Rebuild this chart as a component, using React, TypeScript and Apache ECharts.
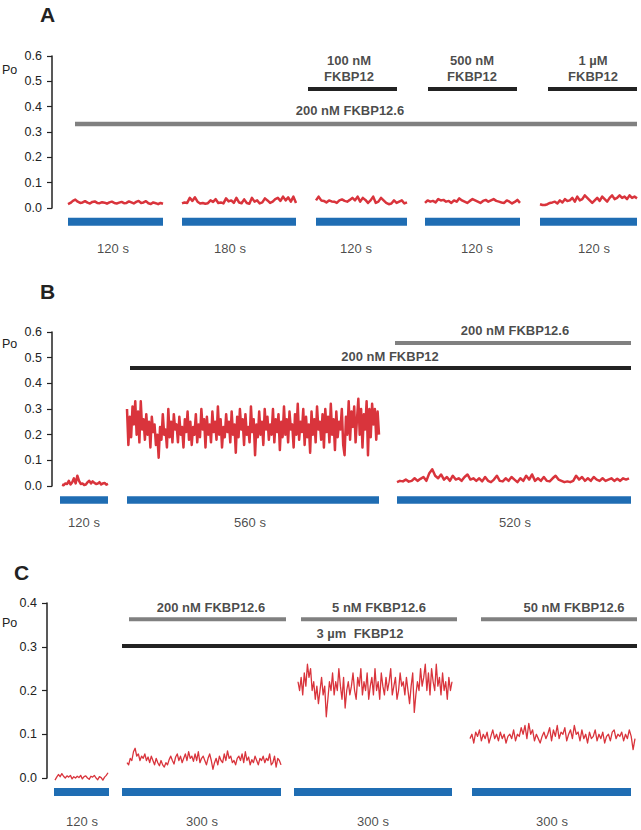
import React, { useEffect, useRef } from "react";
import * as echarts from "echarts";

// ---------- Panel A data ----------
const aTicks = [0, 0.1, 0.2, 0.3, 0.4, 0.5, 0.6];
const aSegSpans = [[16, 111], [130, 244], [264, 355], [373, 468], [488, 585]];
const aDurLabels = ["120 s", "180 s", "120 s", "120 s", "120 s"];
const aDurCenters = [61, 178, 304, 425, 542];
const aT1 = [0.015,0.02,0.028,0.033,0.025,0.02,0.022,0.027,0.021,0.018,0.024,0.026,0.02,0.019,0.023,0.021,0.017,0.022,0.025,0.02,0.018,0.021,0.024,0.019,0.02,0.026,0.022,0.018,0.024,0.028,0.02,0.022,0.027,0.019,0.016,0.022,0.019,0.015,0.02,0.017];
const aT2 = [0.018,0.022,0.02,0.04,0.028,0.042,0.025,0.018,0.02,0.017,0.019,0.03,0.024,0.035,0.02,0.022,0.018,0.038,0.026,0.03,0.02,0.04,0.022,0.019,0.034,0.02,0.017,0.04,0.025,0.03,0.018,0.022,0.038,0.03,0.02,0.025,0.035,0.04,0.028,0.045,0.03,0.042,0.025,0.045,0.02];
const aT3 = [0.03,0.045,0.03,0.028,0.022,0.03,0.026,0.025,0.02,0.03,0.034,0.028,0.025,0.032,0.04,0.03,0.045,0.025,0.04,0.032,0.02,0.03,0.045,0.02,0.025,0.04,0.03,0.02,0.015,0.018,0.03,0.02,0.025,0.03,0.018,0.022];
const aT4 = [0.02,0.03,0.025,0.028,0.022,0.035,0.03,0.032,0.025,0.028,0.02,0.03,0.025,0.038,0.03,0.025,0.02,0.028,0.035,0.03,0.025,0.02,0.028,0.032,0.025,0.03,0.035,0.028,0.025,0.022,0.02,0.03,0.025,0.018,0.024,0.032,0.02];
const aT5 = [0.015,0.012,0.012,0.015,0.02,0.022,0.025,0.018,0.03,0.022,0.035,0.028,0.03,0.04,0.025,0.045,0.03,0.035,0.05,0.04,0.03,0.02,0.03,0.04,0.028,0.045,0.035,0.025,0.04,0.05,0.035,0.04,0.05,0.04,0.045,0.035,0.05,0.04,0.045,0.038];
const aBlackSpans = [[256, 345], [376, 465], [496, 585]];
const aBlackLabels1 = ["100 nM", "500 nM", "1 µM"];
const aBlackLabels2 = ["FKBP12", "FKBP12", "FKBP12"];
const aBlackCenters = [297, 420, 541];
const aGreySpan = [23, 585];
const aGreyLabel = "200 nM FKBP12.6";

// ---------- Panel B data ----------
const bTicks = [0, 0.1, 0.2, 0.3, 0.4, 0.5, 0.6];
const bSegSpans = [[10, 56], [75, 327], [345, 577]];
const bBlueSpans = [[8, 56], [75, 327], [345, 579]];
const bDurLabels = ["120 s", "560 s", "520 s"];
const bDurCenters = [32, 198, 463];
const bT1 = [0.005,0.003,0.01,0.008,0.02,0.006,0.015,0.03,0.01,0.04,0.02,0.008,0.01,0.004,0.006,0.015,0.02,0.01,0.018,0.012,0.008,0.01,0.015,0.006,0.01,0.012,0.005,0.008];
const bT2 = [0.3,0.16,0.27,0.19,0.31,0.24,0.33,0.2,0.29,0.17,0.33,0.22,0.26,0.18,0.28,0.2,0.25,0.15,0.27,0.21,0.24,0.16,0.2,0.11,0.23,0.18,0.28,0.2,0.22,0.15,0.3,0.19,0.25,0.17,0.28,0.22,0.24,0.17,0.27,0.2,0.23,0.15,0.26,0.21,0.29,0.18,0.25,0.16,0.23,0.2,0.28,0.17,0.24,0.19,0.3,0.22,0.26,0.15,0.27,0.2,0.24,0.17,0.29,0.21,0.25,0.18,0.31,0.2,0.26,0.15,0.23,0.19,0.28,0.21,0.25,0.17,0.29,0.2,0.24,0.13,0.27,0.19,0.3,0.22,0.26,0.16,0.28,0.2,0.23,0.17,0.31,0.21,0.26,0.12,0.24,0.19,0.29,0.2,0.25,0.16,0.3,0.22,0.27,0.18,0.24,0.2,0.3,0.17,0.26,0.21,0.28,0.14,0.25,0.19,0.31,0.2,0.26,0.17,0.29,0.22,0.24,0.15,0.28,0.2,0.32,0.18,0.25,0.21,0.3,0.16,0.27,0.19,0.24,0.13,0.29,0.2,0.26,0.17,0.31,0.22,0.25,0.18,0.28,0.15,0.3,0.21,0.27,0.17,0.32,0.2,0.26,0.14,0.29,0.19,0.25,0.22,0.3,0.16,0.12,0.27,0.2,0.33,0.18,0.29,0.23,0.31,0.17,0.26,0.34,0.2,0.3,0.15,0.28,0.22,0.33,0.12,0.3,0.19,0.32,0.24,0.3,0.18,0.29,0.2];
const bT3 = [0.015,0.02,0.018,0.025,0.017,0.02,0.03,0.02,0.028,0.035,0.02,0.05,0.065,0.04,0.03,0.045,0.025,0.035,0.02,0.04,0.025,0.03,0.02,0.035,0.045,0.025,0.03,0.02,0.03,0.018,0.035,0.02,0.015,0.025,0.04,0.02,0.018,0.03,0.02,0.035,0.025,0.015,0.03,0.02,0.04,0.025,0.045,0.02,0.03,0.02,0.035,0.02,0.018,0.03,0.04,0.025,0.02,0.015,0.018,0.015,0.02,0.04,0.025,0.035,0.02,0.03,0.02,0.035,0.025,0.02,0.03,0.02,0.025,0.03,0.02,0.028,0.02,0.03,0.025,0.03];
const bBlackSpan = [78, 579];
const bBlackLabel = "200 nM FKBP12";
const bBlackCenter = 338;
const bGreySpan = [343, 579];
const bGreyLabel = "200 nM FKBP12.6";
const bGreyCenter = 463;

// ---------- Panel C data ----------
const cTicks = [0, 0.1, 0.2, 0.3, 0.4];
const cSegSpans = [[8, 61], [80, 234], [251, 405], [423, 588]];
const cBlueSpans = [[7, 62], [75, 234], [247, 405], [425, 584]];
const cDurLabels = ["120 s", "300 s", "300 s", "300 s"];
const cDurCenters = [35, 155, 326, 505];
const cT1 = [-0.005,0.002,0.008,0.003,0.01,0.004,0.0,0.005,0.002,0.006,-0.002,0.003,0.0,0.004,0.001,0.006,-0.002,0.003,0.005,0.0,-0.003,0.004,0.002,0.006,0.0,-0.004,0.003,0.001,-0.005,0.002,0.006,0.012];
const cT2 = [0.035,0.03,0.045,0.04,0.06,0.068,0.05,0.055,0.04,0.05,0.045,0.055,0.04,0.048,0.035,0.05,0.04,0.03,0.045,0.035,0.028,0.04,0.03,0.025,0.035,0.03,0.042,0.05,0.04,0.032,0.048,0.055,0.04,0.05,0.035,0.045,0.055,0.04,0.06,0.045,0.05,0.038,0.055,0.04,0.06,0.035,0.045,0.05,0.04,0.03,0.045,0.055,0.04,0.02,0.035,0.045,0.03,0.05,0.04,0.035,0.055,0.04,0.062,0.045,0.05,0.035,0.04,0.03,0.045,0.05,0.04,0.055,0.035,0.06,0.04,0.048,0.03,0.042,0.035,0.05,0.04,0.03,0.045,0.04,0.05,0.035,0.045,0.04,0.055,0.03,0.035,0.05,0.025,0.045,0.04,0.03];
const cT3 = [0.22,0.2,0.23,0.19,0.24,0.21,0.26,0.23,0.25,0.2,0.22,0.18,0.21,0.17,0.2,0.23,0.19,0.21,0.14,0.18,0.22,0.2,0.24,0.19,0.22,0.2,0.25,0.21,0.18,0.23,0.16,0.2,0.22,0.19,0.21,0.24,0.2,0.18,0.23,0.21,0.25,0.19,0.22,0.2,0.24,0.18,0.21,0.23,0.19,0.25,0.2,0.22,0.18,0.24,0.21,0.19,0.23,0.2,0.22,0.25,0.19,0.21,0.23,0.18,0.2,0.24,0.21,0.22,0.19,0.23,0.2,0.17,0.21,0.24,0.15,0.19,0.22,0.2,0.25,0.21,0.23,0.26,0.2,0.24,0.19,0.25,0.22,0.2,0.26,0.21,0.23,0.19,0.24,0.2,0.22,0.18,0.23,0.2,0.22];
const cT4 = [0.09,0.1,0.08,0.105,0.095,0.11,0.085,0.1,0.09,0.105,0.08,0.095,0.11,0.09,0.1,0.085,0.105,0.09,0.1,0.08,0.095,0.1,0.09,0.11,0.085,0.1,0.095,0.115,0.1,0.12,0.09,0.125,0.1,0.11,0.085,0.1,0.09,0.08,0.095,0.105,0.09,0.1,0.115,0.085,0.11,0.095,0.12,0.09,0.105,0.1,0.115,0.085,0.1,0.11,0.09,0.12,0.1,0.105,0.085,0.11,0.09,0.1,0.08,0.105,0.09,0.095,0.11,0.085,0.1,0.09,0.105,0.08,0.095,0.1,0.085,0.105,0.11,0.09,0.1,0.095,0.105,0.085,0.1,0.09,0.11,0.095,0.065,0.09];
const cBlackSpan = [75, 590];
const cBlackLabel = "3 µm  FKBP12";
const cBlackCenter = 313;
const cGreySpans = [[82, 239], [254, 410], [434, 590]];
const cGreyLabels = ["200 nM FKBP12.6", "5 nM FKBP12.6", "50 nM FKBP12.6"];
const cGreyCenters = [164, 332, 527];

// ---------- styles ----------
const RED = "#d9343c";
const BLUE = "#1f6db3";
const GREY = "#808080";
const BLACK = "#222222";
const FONT = "Liberation Sans, Arial, sans-serif";

type Span = number[];

function trace(values: number[], span: Span, idx: number, width: number) {
  const n = values.length;
  const step = (span[1] - span[0]) / (n - 1);
  return {
    type: "line",
    xAxisIndex: idx,
    yAxisIndex: idx,
    data: values.map((v, i) => [span[0] + i * step, v]),
    showSymbol: false,
    symbol: "none",
    clip: false,
    silent: true,
    lineStyle: { color: RED, width, join: "round" },
    z: 3,
  };
}

function bar(span: Span, y: number, idx: number, color: string, width: number) {
  return {
    type: "line",
    xAxisIndex: idx,
    yAxisIndex: idx,
    data: [[span[0], y], [span[1], y]],
    showSymbol: false,
    symbol: "none",
    clip: false,
    silent: true,
    lineStyle: { color, width, cap: "butt" },
    z: 2,
  };
}

function texts(items: any[], idx: number, bold: boolean, size: number) {
  return {
    type: "scatter",
    xAxisIndex: idx,
    yAxisIndex: idx,
    data: items,
    symbolSize: 1,
    clip: false,
    silent: true,
    itemStyle: { color: "rgba(0,0,0,0)" },
    label: {
      show: true,
      position: "inside",
      formatter: (p: any) => p.value[2],
      color: "#1a1a1a",
      fontSize: size,
      fontWeight: bold ? "bold" : "normal",
      fontFamily: FONT,
    },
    z: 5,
  };
}

function yAxis(idx: number, max: number) {
  return {
    gridIndex: idx,
    type: "value",
    min: 0,
    max,
    interval: 0.1,
    axisLine: { show: true, lineStyle: { color: "#222", width: 1.5 } },
    axisTick: { show: true, inside: false, length: 5, lineStyle: { color: "#222", width: 1.2 } },
    axisLabel: {
      color: "#222",
      fontSize: 12.5,
      fontFamily: FONT,
      margin: 10,
      formatter: (v: number) => v.toFixed(1),
    },
    splitLine: { show: false },
  };
}

function xAxis(idx: number, max: number) {
  return { gridIndex: idx, type: "value", min: 0, max, show: false };
}

export default function App() {
  const ref = useRef<HTMLDivElement>(null);
  useEffect(() => {
    if (!ref.current) return;
    const chart = echarts.init(ref.current, undefined, { renderer: "svg" });
    const series: any[] = [];

    // Panel A (index 0)
    [aT1, aT2, aT3, aT4, aT5].forEach((t, i) => series.push(trace(t, aSegSpans[i], 0, 2.5)));
    aSegSpans.forEach((s) => series.push(bar(s, -0.054, 0, BLUE, 8)));
    series.push(bar(aGreySpan, 0.332, 0, GREY, 4.5));
    aBlackSpans.forEach((s) => series.push(bar(s, 0.47, 0, BLACK, 4)));
    series.push(
      texts(
        [
          ...aBlackCenters.map((c, i) => [c, 0.584, aBlackLabels1[i]]),
          ...aBlackCenters.map((c, i) => [c, 0.521, aBlackLabels2[i]]),
          [298, 0.383, aGreyLabel],
        ],
        0, true, 13
      )
    );
    series.push(texts(aDurCenters.map((c, i) => [c, -0.158, aDurLabels[i]]), 0, false, 13));

    // Panel B (index 1)
    [bT1, bT2, bT3].forEach((t, i) => series.push(trace(t, bSegSpans[i], 1, 2.5)));
    bBlueSpans.forEach((s) => series.push(bar(s, -0.055, 1, BLUE, 7.5)));
    series.push(bar(bBlackSpan, 0.46, 1, BLACK, 4));
    series.push(bar(bGreySpan, 0.557, 1, GREY, 4));
    series.push(
      texts([[bBlackCenter, 0.503, bBlackLabel], [bGreyCenter, 0.607, bGreyLabel]], 1, true, 13)
    );
    series.push(texts(bDurCenters.map((c, i) => [c, -0.144, bDurLabels[i]]), 1, false, 13));

    // Panel C (index 2)
    [cT1, cT2, cT3, cT4].forEach((t, i) => series.push(trace(t, cSegSpans[i], 2, 1.3)));
    cBlueSpans.forEach((s) => series.push(bar(s, -0.032, 2, BLUE, 8)));
    series.push(bar(cBlackSpan, 0.302, 2, BLACK, 4));
    cGreySpans.forEach((s) => series.push(bar(s, 0.363, 2, GREY, 4)));
    series.push(
      texts(
        [
          ...cGreyCenters.map((c, i) => [c, 0.389, cGreyLabels[i]]),
          [cBlackCenter, 0.331, cBlackLabel],
        ],
        2, true, 13
      )
    );
    series.push(texts(cDurCenters.map((c, i) => [c, -0.1, cDurLabels[i]]), 2, false, 13));

    const letterStyle = { fill: "#222", fontSize: 21, fontWeight: "bold", fontFamily: FONT };
    const poStyle = { fill: "#222", fontSize: 12.5, fontFamily: FONT };

    chart.setOption({
      animation: false,
      backgroundColor: "#ffffff",
      grid: [
        { left: 52, top: 56, width: 585, height: 152 },
        { left: 52, top: 332, width: 585, height: 154 },
        { left: 47, top: 603, width: 590, height: 175 },
      ],
      xAxis: [xAxis(0, 585), xAxis(1, 585), xAxis(2, 590)],
      yAxis: [yAxis(0, 0.6), yAxis(1, 0.6), yAxis(2, 0.4)],
      series,
      graphic: [
        { type: "text", left: 40, top: 4, style: { ...letterStyle, text: "A" } },
        { type: "text", left: 40, top: 281, style: { ...letterStyle, text: "B" } },
        { type: "text", left: 14, top: 562, style: { ...letterStyle, text: "C" } },
        { type: "text", left: 2, top: 63, style: { ...poStyle, text: "Po" } },
        { type: "text", left: 2, top: 337, style: { ...poStyle, text: "Po" } },
        { type: "text", left: 2, top: 616, style: { ...poStyle, text: "Po" } },
      ],
    });
    return () => chart.dispose();
  }, []);
  return (
    <div
      ref={ref}
      style={{ position: "fixed", left: 0, top: 0, width: 641, height: 830, background: "#fff" }}
    />
  );
}
